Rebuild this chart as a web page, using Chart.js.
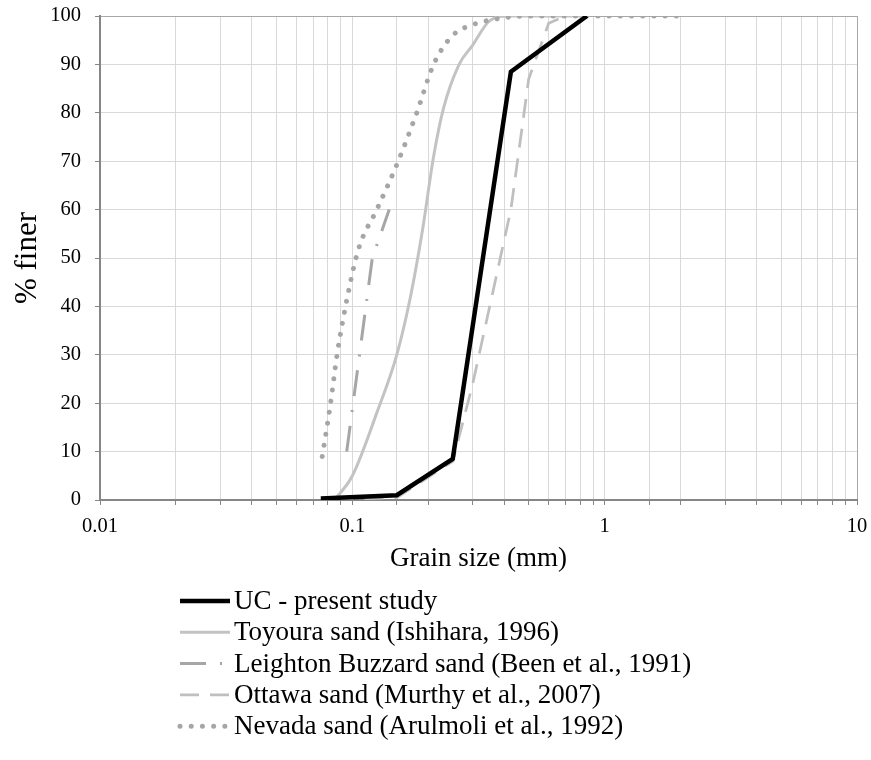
<!DOCTYPE html>
<html>
<head>
<meta charset="utf-8">
<script src="https://cdn.jsdelivr.net/npm/chart.js@4"></script>
<style>
  html, body { margin: 0; padding: 0; background: #fff; }
  #wrap { width: 871px; height: 760px; }
</style>
</head>
<body>
<div id="wrap"><canvas id="gradingChart"></canvas></div>
<script>
// grain size (mm) against % finer for each sand
const ucSize = [0.075, 0.15, 0.25, 0.425, 0.85];
const ucFiner = [0.3, 1, 8.5, 88.5, 100];

const toyouraSize = [0.085, 0.1, 0.125, 0.15, 0.17, 0.19, 0.21, 0.23, 0.265, 0.3, 0.35, 0.42, 0.85];
const toyouraFiner = [0, 5, 18, 30, 42, 56, 71, 81, 90, 94, 99, 100, 100];

const leightonSize = [0.095, 0.12, 0.14];
const leightonFiner = [10, 50, 60];

const ottawaSize = [0.085, 0.15, 0.25, 0.3, 0.425, 0.5, 0.6, 0.7];
const ottawaFiner = [0, 0.5, 8, 24, 60, 87, 98.5, 100];

const nevadaSize = [0.076, 0.082, 0.087, 0.0965, 0.106, 0.125, 0.152, 0.18, 0.21, 0.25, 0.3, 0.385, 0.5, 2];
const nevadaFiner = [9, 20, 30, 43, 52, 60, 70, 80, 90, 96, 98.2, 99.5, 100, 100];

const seriesNames = [
  'UC - present study',
  'Toyoura sand (Ishihara, 1996)',
  'Leighton Buzzard sand (Been et al., 1991)',
  'Ottawa sand (Murthy et al., 2007)',
  'Nevada sand (Arulmoli et al., 1992)'
];

// only the decades get a label on the log axis
const sizeLabels = [0.01, 0.1, 1, 10];

const FONT = "'Liberation Serif', 'Times New Roman', serif";
const GRID = '#d9d9d9';
const AXIS = '#868686';

const toPoints = (xs, ys) => xs.map((x, i) => ({ x: x, y: ys[i] }));

// keep the plot box where the layout padding puts it
const noOverhang = (scale) => {
  scale.paddingTop = 0;
  scale.paddingBottom = 0;
  scale.paddingLeft = 0;
  scale.paddingRight = 0;
};

// vertical legend under the x axis title
const sieveLegend = {
  id: 'sieveLegend',
  afterDraw(chart, args, opts) {
    const ctx = chart.ctx;
    ctx.save();
    ctx.font = opts.fontSize + 'px ' + FONT;
    ctx.textBaseline = 'middle';
    ctx.textAlign = 'left';
    chart.data.datasets.forEach((ds, i) => {
      const y = opts.top + i * opts.rowHeight;
      ctx.beginPath();
      ctx.strokeStyle = ds.borderColor;
      ctx.lineWidth = ds.borderWidth;
      ctx.lineCap = ds.borderCapStyle || 'butt';
      ctx.setLineDash(ds.borderDash || []);
      ctx.moveTo(opts.left, y);
      ctx.lineTo(opts.left + opts.lineLength, y);
      ctx.stroke();
      ctx.setLineDash([]);
      ctx.fillStyle = '#000';
      ctx.fillText(ds.label, opts.left + opts.lineLength + opts.gap, y + 1);
    });
    ctx.restore();
  }
};

new Chart(document.getElementById('gradingChart'), {
  type: 'scatter',
  data: {
    datasets: [
      {
        label: seriesNames[0],
        data: toPoints(ucSize, ucFiner),
        borderColor: '#000000',
        borderWidth: 4.5,
        order: 0
      },
      {
        label: seriesNames[1],
        data: toPoints(toyouraSize, toyouraFiner),
        borderColor: '#c3c3c3',
        borderWidth: 3,
        cubicInterpolationMode: 'monotone',
        order: 4
      },
      {
        label: seriesNames[2],
        data: toPoints(leightonSize, leightonFiner),
        borderColor: '#a6a6a6',
        borderWidth: 3,
        borderDash: [26, 14, 2, 14],
        order: 3
      },
      {
        label: seriesNames[3],
        data: toPoints(ottawaSize, ottawaFiner),
        borderColor: '#bfbfbf',
        borderWidth: 2.75,
        borderDash: [19, 11],
        order: 2
      },
      {
        label: seriesNames[4],
        data: toPoints(nevadaSize, nevadaFiner),
        borderColor: '#a6a6a6',
        borderWidth: 5,
        borderDash: [0.01, 11.2],
        borderCapStyle: 'round',
        cubicInterpolationMode: 'monotone',
        order: 1
      }
    ]
  },
  options: {
    responsive: true,
    maintainAspectRatio: false,
    animation: false,
    events: [],
    showLine: true,
    elements: { point: { radius: 0 } },
    layout: { padding: { top: 16, right: 14, bottom: 185, left: 0 } },
    plugins: {
      legend: { display: false },
      tooltip: { enabled: false },
      sieveLegend: { left: 180, lineLength: 50, gap: 4, top: 601, rowHeight: 31.3, fontSize: 27 }
    },
    scales: {
      x: {
        type: 'logarithmic',
        min: 0.01,
        max: 10,
        afterFit: (scale) => { scale.height = 75; noOverhang(scale); },
        border: { color: AXIS, width: 2 },
        grid: {
          color: (c) => (c.tick && c.tick.value === 10 ? '#a8a8a8' : GRID),
          tickColor: AXIS,
          tickLength: 5
        },
        ticks: {
          autoSkip: false,
          maxRotation: 0,
          padding: 9,
          color: '#000',
          font: { family: FONT, size: 20.5 },
          callback: (v) => {
            const hit = sizeLabels.find((s) => Math.abs(s - v) < s * 1e-6);
            return hit === undefined ? '' : String(hit);
          }
        },
        title: {
          display: true,
          text: 'Grain size (mm)',
          color: '#000',
          font: { family: FONT, size: 27 },
          padding: { top: 0, bottom: 0 }
        }
      },
      y: {
        min: 0,
        max: 100,
        afterFit: (scale) => { scale.width = 100; noOverhang(scale); },
        border: { color: AXIS, width: 2 },
        grid: {
          color: (c) => (c.tick && c.tick.value === 100 ? '#a8a8a8' : GRID),
          tickColor: AXIS,
          tickLength: 5
        },
        ticks: {
          stepSize: 10,
          padding: 14,
          color: '#000',
          font: { family: FONT, size: 20.5 }
        },
        title: {
          display: true,
          text: '% finer',
          color: '#000',
          font: { family: FONT, size: 31 },
          padding: { top: 9, bottom: 0 }
        }
      }
    }
  },
  plugins: [sieveLegend]
});
</script>
</body>
</html>
